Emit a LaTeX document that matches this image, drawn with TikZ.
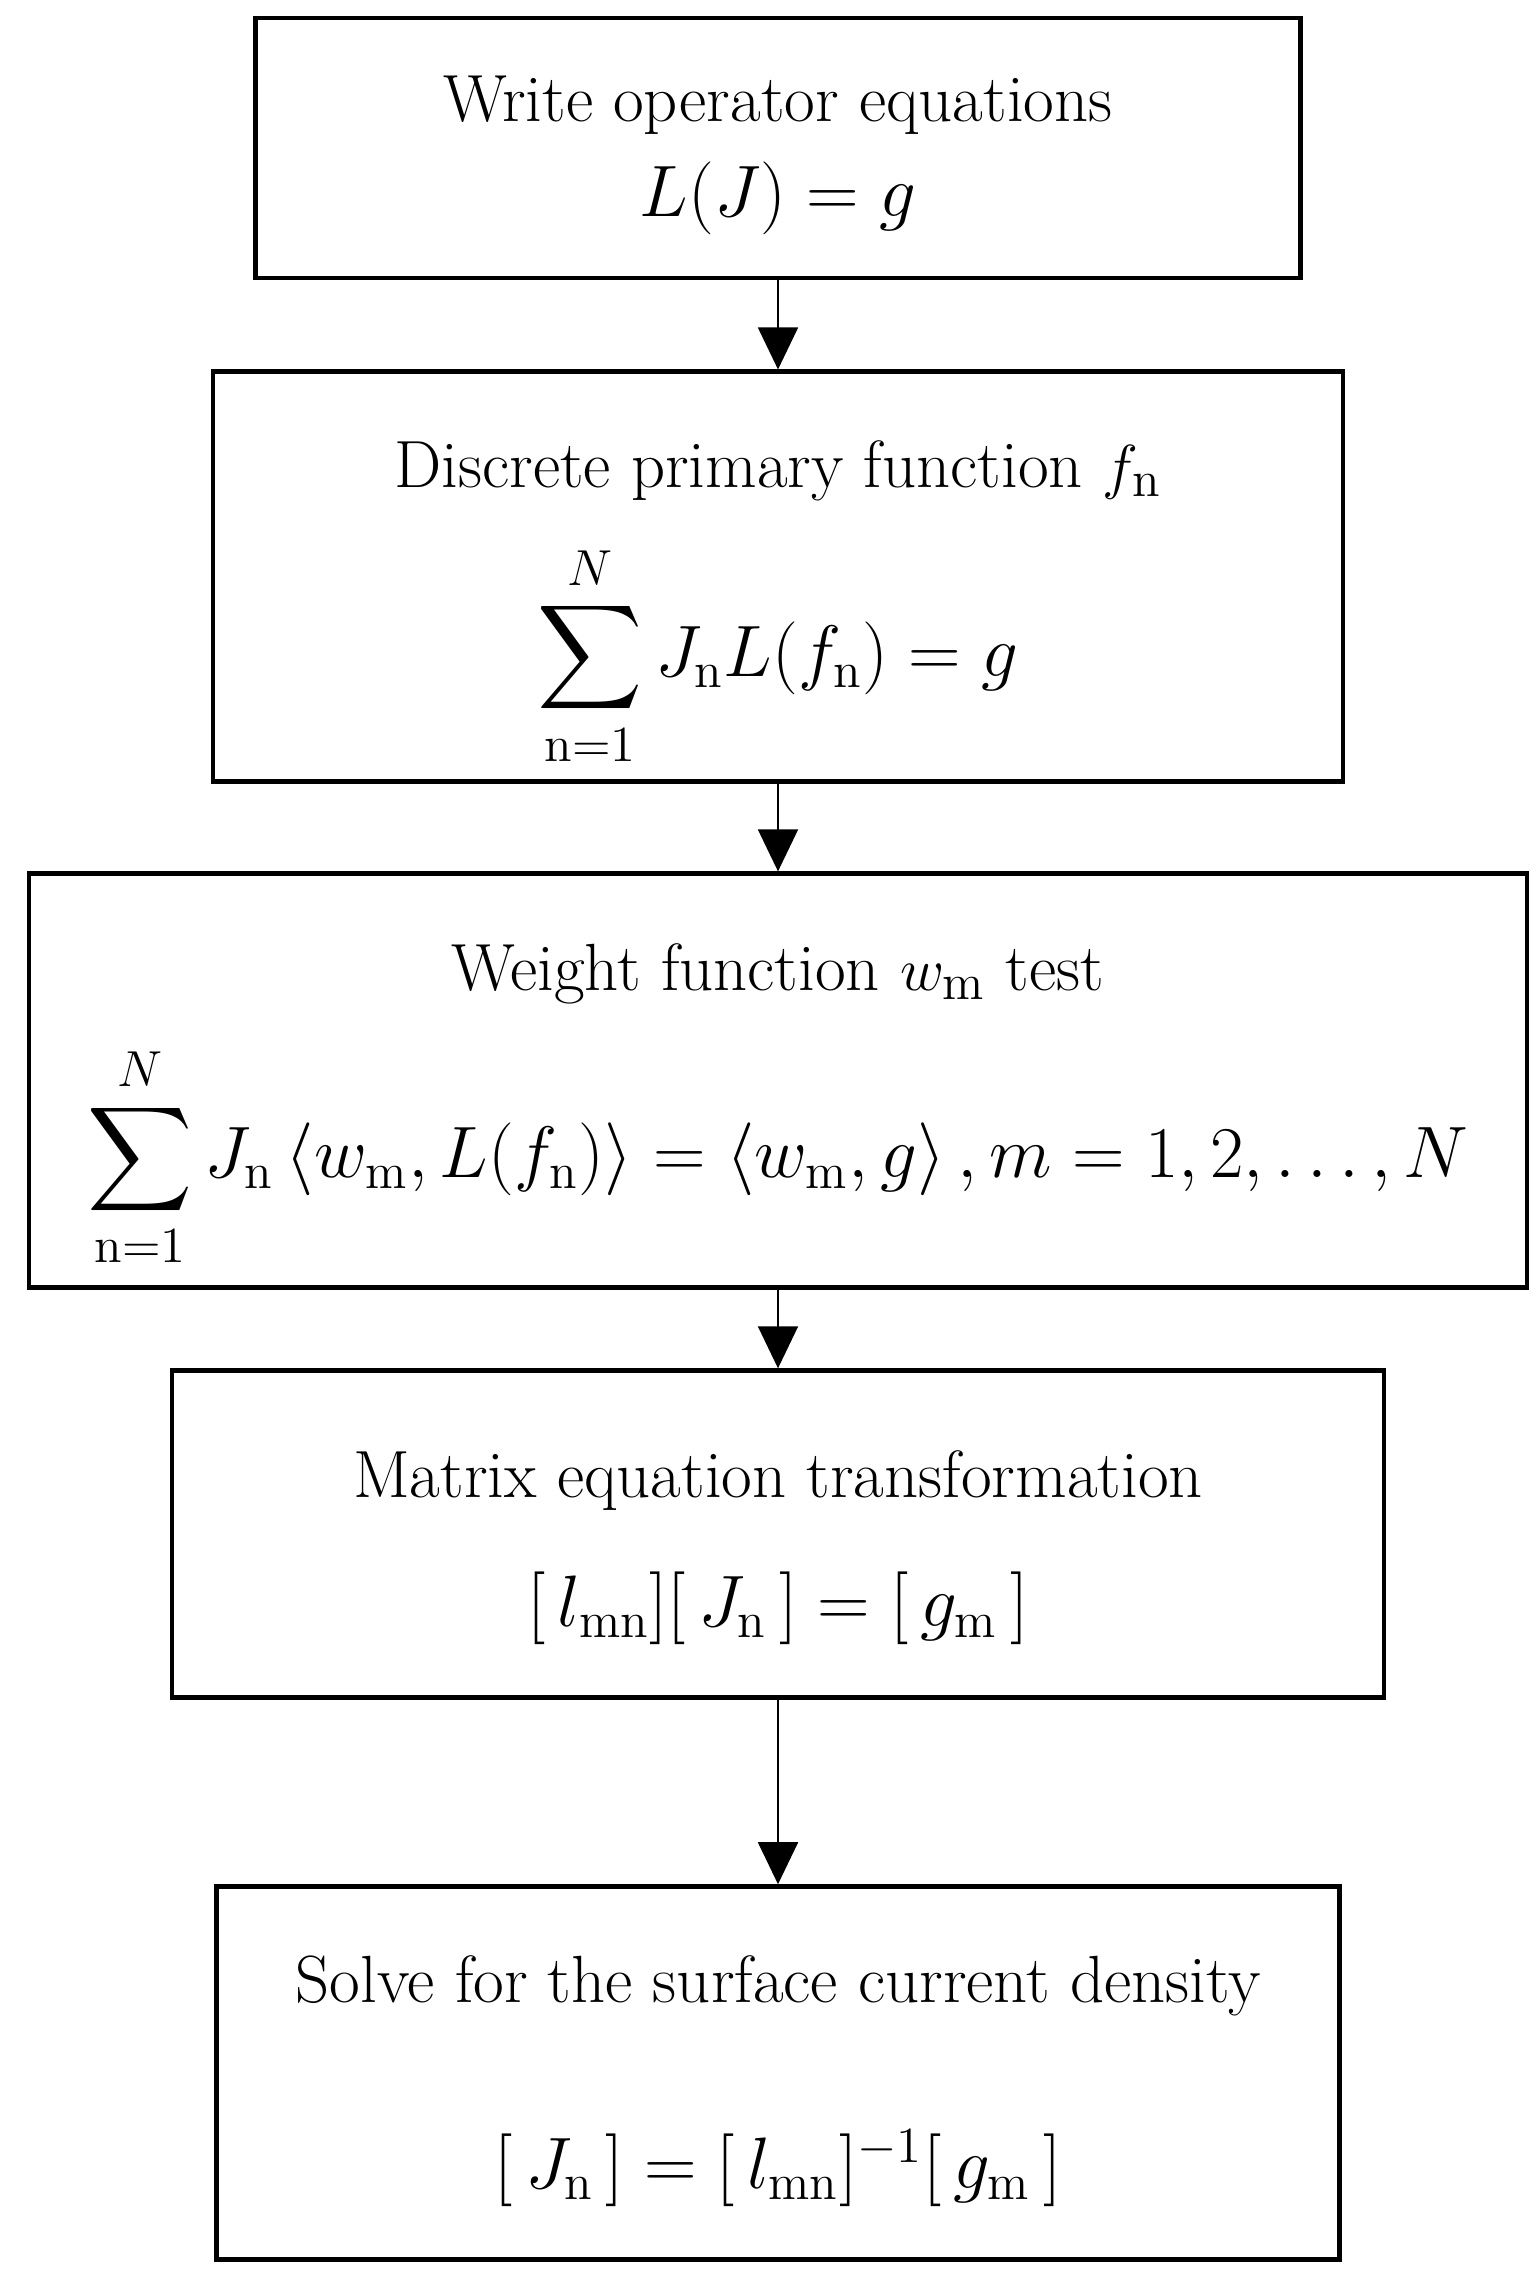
\documentclass[tikz,border=0pt]{standalone}
\usepackage{amsmath}
\usepackage{tikz}
\usetikzlibrary{positioning}
\usetikzlibrary{arrows.meta}
\tikzset{
  stepbox/.style={
    draw, line width=1.4pt, align=center, inner sep=0pt,
    font=\fontsize{19}{22}\selectfont
  },
  flow/.style={-{Triangle[length=0.42cm,width=0.4cm]}, line width=0.5pt}
}
\newcommand{\eqsize}{\fontsize{21}{25}\selectfont}

\begin{document}
\begin{tikzpicture}
  \useasboundingbox (0,0) rectangle (15.39,-22.81);
  \node[stepbox, minimum width=10.45cm, minimum height=2.6cm] (write) at (7.78,-1.48)
    {\rule{0pt}{17pt}Write operator equations\\[5pt] {\eqsize $L(J)=g$}};
  \node[stepbox, minimum width=11.3cm, minimum height=4.1cm, below=0.89cm of write] (discrete)
    {\rule{0pt}{29pt}Discrete primary function $f_{\mathrm{n}}$\\[11pt]
     {\eqsize $\displaystyle\sum_{\mathrm{n}=1}^{N} J_{\mathrm{n}} L(f_{\mathrm{n}}) = g$}};
  \node[stepbox, minimum width=14.98cm, minimum height=4.14cm, below=0.87cm of discrete] (weight)
    {\rule{0pt}{28pt}Weight function $w_{\mathrm{m}}$ test\\[10.5pt]
     {\eqsize $\displaystyle\sum_{\mathrm{n}=1}^{N} J_{\mathrm{n}}
       \left\langle w_{\mathrm{m}}, L(f_{\mathrm{n}})\right\rangle
       = \left\langle w_{\mathrm{m}}, g\right\rangle, m=1,2,\ldots,N$}};
  \node[stepbox, minimum width=12.12cm, minimum height=3.27cm, below=0.78cm of weight] (matrix)
    {\rule{0pt}{21pt}Matrix equation transformation\\[14.5pt]
     {\eqsize $[\,l_{\mathrm{mn}}][\,J_{\mathrm{n}}\,]=[\,g_{\mathrm{m}}\,]$}};
  \node[stepbox, minimum width=11.23cm, minimum height=3.73cm, below=1.84cm of matrix] (solve)
    {\rule{0pt}{18pt}Solve for the surface current density\\[31pt]
     {\eqsize $[\,J_{\mathrm{n}}\,]=[\,l_{\mathrm{mn}}]^{-1}[\,g_{\mathrm{m}}\,]$}};
  \draw[flow] (write) -- (discrete);
  \draw[flow] (discrete) -- (weight);
  \draw[flow] (weight) -- (matrix);
  \draw[flow] (matrix) -- (solve);
\end{tikzpicture}
\end{document}
